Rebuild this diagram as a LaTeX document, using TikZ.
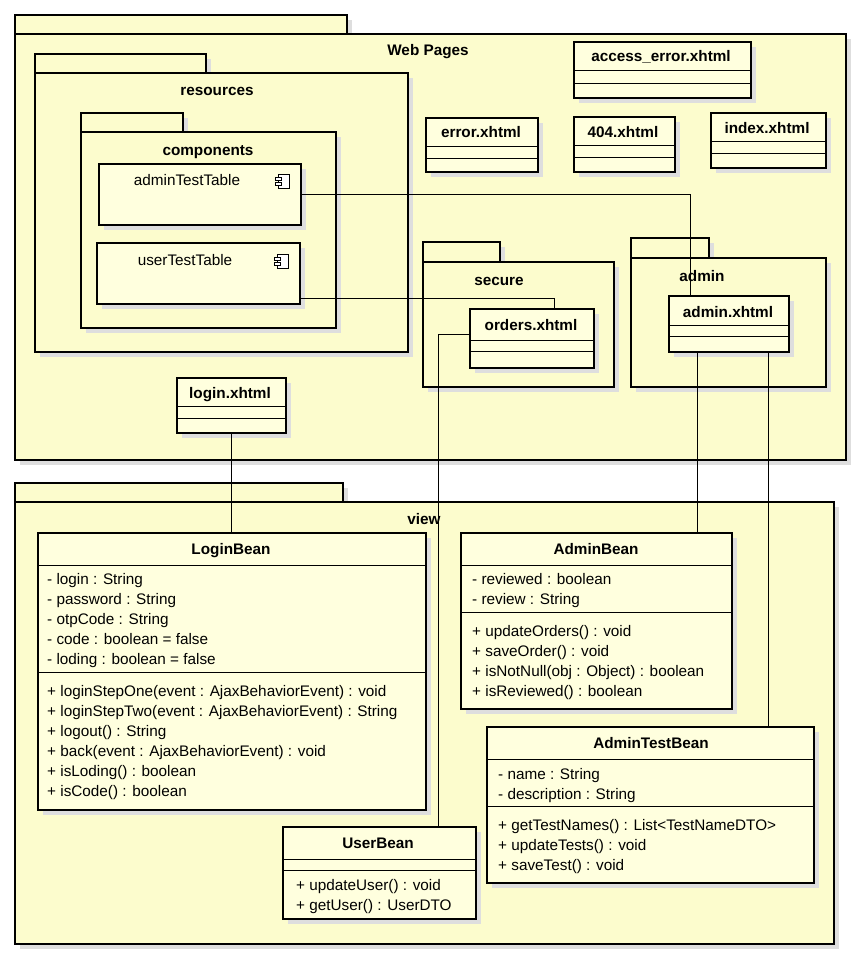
\documentclass[tikz,border=0pt]{standalone}
\usepackage{fontspec}
\setmainfont{Liberation Sans}
\usetikzlibrary{shadows,calc}
\definecolor{uy}{RGB}{255,255,222}
\definecolor{uy2}{RGB}{252,252,205}
\begin{document}
\begin{tikzpicture}[x=1pt,y=-1pt,
  box/.style={draw=black,line width=2.4pt,fill=uy,inner sep=0pt,anchor=north west,
    drop shadow={shadow xshift=5pt,shadow yshift=-5pt,fill=black!13,opacity=1}},
  pkg/.style={box,fill=uy2},
  sep/.style={line width=0.8pt},
  t/.style={font=\fontsize{15.3}{17}\selectfont,anchor=base west,inner sep=0pt},
  tb/.style={font=\bfseries\fontsize{15.3}{17}\selectfont,anchor=base,inner sep=0pt},
  tc/.style={font=\fontsize{15.3}{17}\selectfont,anchor=base,inner sep=0pt},
  con/.style={line width=0.8pt}]
\useasboundingbox (0,0) rectangle (865,963);
\fill[white] (0,0) rectangle (865,963);
% Web Pages package
\node[pkg,minimum width=332,minimum height=19] (wpt) at (14,14) {};
\node[pkg,minimum width=831,minimum height=426] (wp) at (14,33) {};
\node[tb] at (428,56) {Web Pages};
% resources
\node[pkg,minimum width=171,minimum height=19] (rst) at (34,53) {};
\node[pkg,minimum width=373,minimum height=279] (rs) at (34,72) {};
\node[tb] at (217,96) {resources};
% components
\node[pkg,minimum width=102,minimum height=19] (cpt) at (80,112) {};
\node[pkg,minimum width=255,minimum height=196] (cp) at (80,131) {};
\node[tb] at (208,155) {components};
% component boxes
\node[box,line width=1.6pt,minimum width=202,minimum height=61] (att) at (98,163) {};
\node[tc] at (187,185) {adminTestTable};
\node[box,line width=1.6pt,minimum width=203,minimum height=61] (utt) at (96,242) {};
\node[tc] at (185,265) {userTestTable};
\foreach \x/\y in {283/181,282/261}{
  \draw[line width=0.8pt,fill=white] (\x-5,\y-7) rectangle (\x+6,\y+7);
  \draw[line width=0.8pt,fill=white] (\x-8,\y-4) rectangle (\x-2,\y-1);
  \draw[line width=0.8pt,fill=white] (\x-8,\y+1) rectangle (\x-2,\y+4);
}
% simple xhtml boxes
\node[box,minimum width=177,minimum height=56] (ae) at (573,41) {};
\node[tb] at (661,62) {access\_error.xhtml};
\draw[sep] (573,70) -- (750,70) (573,83) -- (750,83);
\node[box,minimum width=112,minimum height=54] (er) at (425,117) {};
\node[tb] at (481,138) {error.xhtml};
\draw[sep] (425,146) -- (537,146) (425,158) -- (537,158);
\node[box,minimum width=101,minimum height=55] (nf) at (573,116) {};
\node[tb] at (623,137) {404.xhtml};
\draw[sep] (573,145) -- (674,145) (573,157) -- (674,157);
\node[box,minimum width=115,minimum height=55] (ix) at (710,112) {};
\node[tb] at (767,134) {index.xhtml};
\draw[sep] (710,141) -- (825,141) (710,153) -- (825,153);
% secure
\node[pkg,minimum width=77,minimum height=20] (sct) at (422,241) {};
\node[pkg,minimum width=191,minimum height=125] (sc) at (422,261) {};
\node[tb] at (499,285) {secure};
\node[box,minimum width=124,minimum height=59] (ord) at (469,308) {};
\node[tb] at (531,330) {orders.xhtml};
\draw[sep] (469,340) -- (593,340) (469,351) -- (593,351);
% admin
\node[pkg,minimum width=78,minimum height=20] (adt) at (630,237) {};
\node[pkg,minimum width=195,minimum height=129] (ad) at (630,257) {};
\node[tb] at (702,281) {admin};
\node[box,minimum width=120,minimum height=56] (adm) at (668,295) {};
\node[tb] at (728,317) {admin.xhtml};
\draw[sep] (668,325) -- (788,325) (668,336) -- (788,336);
% login
\node[box,minimum width=109,minimum height=55] (lx) at (176,377) {};
\node[tb] at (230,398) {login.xhtml};
\draw[sep] (176,406) -- (285,406) (176,418) -- (285,418);
% view package
\node[pkg,minimum width=328,minimum height=19] (vt) at (14,482) {};
\node[pkg,minimum width=819,minimum height=442] (vw) at (14,501) {};
\node[tb] at (424,524) {view};
% LoginBean
\node[box,minimum width=388,minimum height=277] (lb) at (37,532) {};
\node[tb] at (231,554) {LoginBean};
\draw[sep] (37,565) -- (425,565) (37,672) -- (425,672);
\foreach \s [count=\i from 0] in {- login : String,- password : String,- otpCode : String,- code : boolean = false,- loding : boolean = false}
  \node[t] at (47,584+20*\i) {\s};
\foreach \s [count=\i from 0] in {+ loginStepOne(event : AjaxBehaviorEvent) : void,+ loginStepTwo(event : AjaxBehaviorEvent) : String,+ logout() : String,+ back(event : AjaxBehaviorEvent) : void,+ isLoding() : boolean,+ isCode() : boolean}
  \node[t] at (47,696+20*\i) {\s};
% AdminBean
\node[box,minimum width=271,minimum height=176] (ab) at (460,532) {};
\node[tb] at (596,554) {AdminBean};
\draw[sep] (460,565) -- (731,565) (460,612) -- (731,612);
\foreach \s [count=\i from 0] in {- reviewed : boolean,- review : String}
  \node[t] at (472,584+20.5*\i) {\s};
\foreach \s [count=\i from 0] in {+ updateOrders() : void,+ saveOrder() : void,+ isNotNull(obj : Object) : boolean,+ isReviewed() : boolean}
  \node[t] at (472,636+20*\i) {\s};
% AdminTestBean
\node[box,minimum width=327,minimum height=156] (atb) at (486,726) {};
\node[tb] at (651,748) {AdminTestBean};
\draw[sep] (486,759) -- (813,759) (486,806) -- (813,806);
\foreach \s [count=\i from 0] in {- name : String,- description : String}
  \node[t] at (498,779+20*\i) {\s};
\foreach \s [count=\i from 0] in {+ getTestNames() : List<TestNameDTO>,+ updateTests() : void,+ saveTest() : void}
  \node[t] at (498,830+20*\i) {\s};
% UserBean
\node[box,minimum width=193,minimum height=92] (ub) at (282,826) {};
\node[tb] at (378,848) {UserBean};
\draw[sep] (282,859) -- (475,859) (282,870) -- (475,870);
\foreach \s [count=\i from 0] in {+ updateUser() : void,+ getUser() : UserDTO}
  \node[t] at (296,890+20.5*\i) {\s};
% connectors
\coordinate (a1) at ($(adm.north west)+(22,0)$);
\draw[con] (att.east) -| (a1);
\coordinate (o1) at ($(ord.north west)+(85,0)$);
\draw[con] ($(utt.east)+(0,25)$) -| (o1);
\coordinate (o2) at (438,334);
\draw[con] (ord.west |- o2) -- (o2) -- (o2 |- ub.north);
\draw[con] ($(adm.south west)+(29,0)$) -- ($(ab.north west)+(237,0)$);
\draw[con] ($(adm.south west)+(100,0)$) -- ($(atb.north west)+(282,0)$);
\draw[con] ($(lx.south west)+(55,0)$) -- ($(lb.north west)+(194,0)$);
\end{tikzpicture}
\end{document}
